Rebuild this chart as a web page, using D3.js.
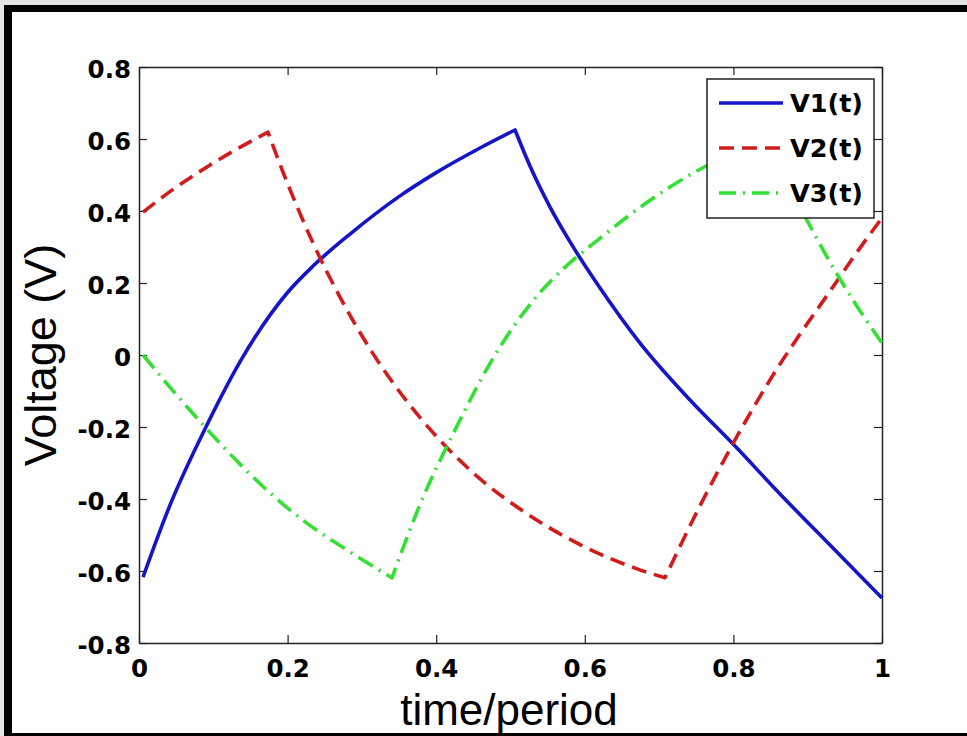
<!DOCTYPE html>
<html>
<head>
<meta charset="utf-8">
<script src="https://cdn.jsdelivr.net/npm/d3@7"></script>
<style>
  html, body { margin: 0; padding: 0; background: #e4e4e4; }
  svg { display: block; }
</style>
</head>
<body>
<svg id="chart" width="967" height="736"></svg>
<script>
// Three-phase capacitor voltages over one period: [time/period, volts]
const v1Rise = [[0.0054,-0.617],[0.0417,-0.417],[0.0915,-0.194],[0.1359,-0.019],[0.2005,0.175],[0.2342,0.247],[0.284,0.336],[0.3513,0.442],[0.4011,0.508],[0.459,0.575],[0.5061,0.625]];
const v1Fall = [[0.5061,0.625],[0.5262,0.525],[0.5532,0.411],[0.5868,0.292],[0.6205,0.186],[0.6743,0.033],[0.7416,-0.125],[0.8022,-0.253],[0.8627,-0.386],[0.93,-0.528],[1.0,-0.675]];

const v2Rise1 = [[0.0054,0.397],[0.0485,0.464],[0.0888,0.519],[0.1292,0.569],[0.1736,0.619]];
const v2Fall = [[0.1736,0.619],[0.1938,0.508],[0.214,0.406],[0.2342,0.311],[0.2705,0.161],[0.3136,0.008],[0.358,-0.122],[0.4011,-0.228],[0.459,-0.344],[0.5128,-0.428],[0.5666,-0.497],[0.6205,-0.553],[0.6676,-0.592],[0.7079,-0.619]];
const v2Rise2 = [[0.7079,-0.619],[0.755,-0.419],[0.8022,-0.236],[0.8493,-0.069],[0.8896,0.058],[0.9273,0.169],[0.9637,0.278],[1.0,0.381]];

const v3Fall1 = [[0.0054,0.0],[0.0485,-0.106],[0.0915,-0.206],[0.1494,-0.331],[0.2167,-0.453],[0.284,-0.547],[0.3405,-0.619]];
const v3Rise = [[0.3405,-0.619],[0.3769,-0.422],[0.4266,-0.203],[0.4711,-0.028],[0.5357,0.164],[0.5693,0.236],[0.6191,0.322],[0.6864,0.428],[0.7362,0.494],[0.7941,0.558],[0.8412,0.608]];
const v3Fall2 = [[0.8412,0.608],[0.8694,0.492],[0.9004,0.369],[0.93,0.258],[0.9637,0.144],[1.0,0.033]];

const seriesNames = ["V1(t)", "V2(t)", "V3(t)"];
const xTicks = [0, 0.2, 0.4, 0.6, 0.8, 1];
const yTicks = [-0.8, -0.6, -0.4, -0.2, 0, 0.2, 0.4, 0.6, 0.8];
const xTickLabels = ["0", "0.2", "0.4", "0.6", "0.8", "1"];
const yTickLabels = ["-0.8", "-0.6", "-0.4", "-0.2", "0", "0.2", "0.4", "0.6", "0.8"];

const series = [
  { name: seriesNames[0], parts: [v1Rise, v1Fall], color: "#1414c8", dash: null },
  { name: seriesNames[1], parts: [v2Rise1, v2Fall, v2Rise2], color: "#d21c1c", dash: "15,8" },
  { name: seriesNames[2], parts: [v3Fall1, v3Rise, v3Fall2], color: "#33e033", dash: "17,7,2,7" }
];

const svg = d3.select("#chart");
const W = 967, H = 736;

// Frame: grey margin, black border, white page
svg.append("rect").attr("x", 0).attr("y", 0).attr("width", W).attr("height", H).attr("fill", "#e4e4e4");
svg.append("rect").attr("x", 4).attr("y", 5).attr("width", W).attr("height", H).attr("fill", "#000");
svg.append("rect").attr("x", 12).attr("y", 12).attr("width", W).attr("height", 721).attr("fill", "#fff");

const plot = { left: 139, right: 882, top: 67, bottom: 643 };
const x = d3.scaleLinear().domain([0, 1]).range([plot.left, plot.right]);
const y = d3.scaleLinear().domain([-0.8, 0.8]).range([plot.bottom, plot.top]);

const axisColor = "#222";
const tickFont = "DejaVu Sans, sans-serif";

// Axes with inward ticks on all four sides
const bottomAxis = d3.axisBottom(x).tickValues(xTicks).tickSizeInner(-8).tickSizeOuter(0)
  .tickFormat((d, i) => xTickLabels[i]).tickPadding(17);
const topAxis = d3.axisTop(x).tickValues(xTicks).tickSizeInner(-8).tickSizeOuter(0).tickFormat("");
const leftAxis = d3.axisLeft(y).tickValues(yTicks).tickSizeInner(-8).tickSizeOuter(0)
  .tickFormat((d, i) => yTickLabels[i]).tickPadding(8);
const rightAxis = d3.axisRight(y).tickValues(yTicks).tickSizeInner(-8).tickSizeOuter(0).tickFormat("");

function styleAxis(g) {
  g.select(".domain").attr("stroke", axisColor).attr("stroke-width", 1.5);
  g.selectAll(".tick line").attr("stroke", axisColor).attr("stroke-width", 1.2);
  g.selectAll(".tick text").attr("fill", "#000")
    .style("font-family", tickFont).style("font-weight", "bold").style("font-size", "24.5px");
}

svg.append("g").attr("transform", `translate(0,${plot.bottom})`).call(bottomAxis).call(styleAxis);
svg.append("g").attr("transform", `translate(0,${plot.top})`).call(topAxis).call(styleAxis);
svg.append("g").attr("transform", `translate(${plot.left},0)`).call(leftAxis).call(styleAxis)
  .selectAll(".tick text").attr("dy", "0.43em");
svg.append("g").attr("transform", `translate(${plot.right},0)`).call(rightAxis).call(styleAxis);

// Each series is built from smooth monotone pieces joined at the sharp switching corners
const lineGen = d3.line().x(d => x(d[0])).y(d => y(d[1])).curve(d3.curveMonotoneX);
function buildPath(parts) {
  return parts.map((p, i) => {
    const s = lineGen(p);
    return i === 0 ? s : s.replace(/^M/, "L");
  }).join("");
}

const curves = svg.append("g");
series.forEach(s => {
  curves.append("path")
    .attr("d", buildPath(s.parts))
    .attr("fill", "none")
    .attr("stroke", s.color)
    .attr("stroke-width", 3.6)
    .attr("stroke-linejoin", "round")
    .attr("stroke-dasharray", s.dash);
});

// Legend
const lg = svg.append("g");
lg.append("rect").attr("x", 707).attr("y", 79).attr("width", 167).attr("height", 139)
  .attr("fill", "#fff").attr("stroke", axisColor).attr("stroke-width", 1.5);
const legendY = [103, 148, 193];
series.forEach((s, i) => {
  lg.append("line").attr("x1", 719).attr("x2", 783).attr("y1", legendY[i]).attr("y2", legendY[i])
    .attr("stroke", s.color).attr("stroke-width", 3.6).attr("stroke-dasharray", s.dash);
  lg.append("text").attr("x", 790).attr("y", legendY[i]).attr("dy", "0.36em")
    .style("font-family", tickFont).style("font-weight", "bold").style("font-size", "25.5px")
    .attr("fill", "#000").text(s.name);
});

// Axis titles
svg.append("text").attr("x", 509).attr("y", 725).attr("text-anchor", "middle")
  .style("font-family", "Liberation Sans, Arial, sans-serif").style("font-size", "44px")
  .attr("fill", "#000").text("time/period");
svg.append("text").attr("transform", "translate(56,355) rotate(-90)").attr("text-anchor", "middle")
  .style("font-family", "Liberation Sans, Arial, sans-serif").style("font-size", "45px")
  .attr("fill", "#000").text("Voltage (V)");

// Bottom edge of the black border sits over the page
svg.append("rect").attr("x", 4).attr("y", 733).attr("width", W).attr("height", 10).attr("fill", "#000");
</script>
</body>
</html>
